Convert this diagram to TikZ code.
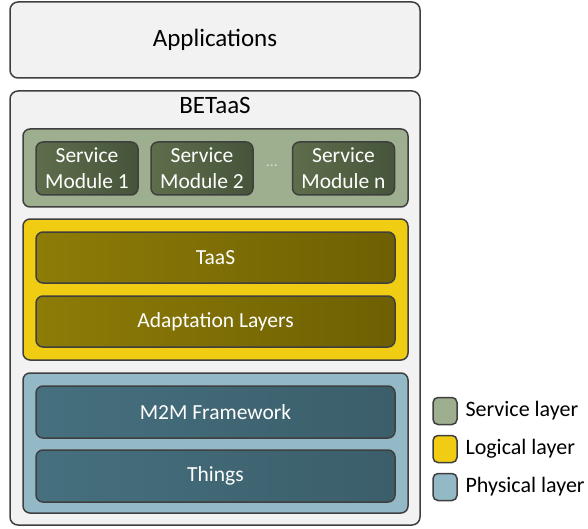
\documentclass[tikz,border=0pt]{standalone}
\usepackage{fontspec}
\setmainfont{Carlito}
\usetikzlibrary{positioning}

\definecolor{boxgray}{HTML}{F2F2F2}
\definecolor{edgegray}{HTML}{3F3F3F}
\definecolor{servlight}{HTML}{9DAF8F}
\definecolor{servdarkA}{HTML}{5E6E4C}
\definecolor{servdarkB}{HTML}{46553A}
\definecolor{logiclight}{HTML}{F0CC12}
\definecolor{logicdarkA}{HTML}{8E7C07}
\definecolor{logicdarkB}{HTML}{6E6003}
\definecolor{physlight}{HTML}{93B8C6}
\definecolor{physdarkA}{HTML}{46707F}
\definecolor{physdarkB}{HTML}{3B5E6A}

\tikzset{
  outerbox/.style={draw=edgegray, line width=1.5pt, fill=boxgray, rounded corners=8pt},
  layerbox/.style={draw=edgegray, line width=1.5pt, rounded corners=7pt, minimum width=385pt},
  innerbox/.style={draw=edgegray, line width=1.5pt, rounded corners=7pt, text=white,
    font=\fontsize{21.5}{26}\selectfont, align=center},
  servmod/.style={innerbox, left color=servdarkA, right color=servdarkB,
    minimum width=102pt, minimum height=53pt, inner sep=0pt},
  logicmod/.style={innerbox, left color=logicdarkA, right color=logicdarkB,
    minimum width=359pt, minimum height=51pt},
  physmod/.style={innerbox, left color=physdarkA, right color=physdarkB,
    minimum width=359pt, minimum height=52pt},
  legendbox/.style={draw=edgegray, line width=1.5pt, rounded corners=5pt,
    minimum width=24pt, minimum height=27pt, inner sep=0pt},
  legendtext/.style={anchor=west, font=\fontsize{22}{24}\selectfont}
}

\begin{document}
\begin{tikzpicture}[x=1pt, y=-1pt]
    \useasboundingbox (0,0) rectangle (588,529);

    % top and main frames
    \node[outerbox, minimum width=410pt, minimum height=76pt,
      font=\fontsize{25}{28}\selectfont] (apps) at (215,40) {Applications};
    \node[outerbox, minimum width=410pt, minimum height=434pt] (betaas) at (215,308) {};
    \node[font=\fontsize{25}{28}\selectfont] (betaaslabel) at (215,105) {BETaaS};

    % service layer
    \node[layerbox, fill=servlight, minimum height=78pt] (service) at (215.5,168) {};
    \node[servmod] (mod1) at (87,168.5) {Service\\Module 1};
    \node[servmod] (mod2) at (202,168.5) {Service\\Module 2};
    \node[servmod] (modn) at (343.5,168.5) {Service\\Module n};
    \node[text=white!85!black, font=\fontsize{16}{16}\selectfont] (dots) at (272,166) {\dots};

    % logical layer
    \node[layerbox, fill=logiclight, minimum height=141pt] (logical) at (215.5,289.5) {};
    \node[logicmod] (taas) at (215.5,257.5) {TaaS};
    \node[logicmod] (adapt) at (215.5,321.5) {Adaptation Layers};

    % physical layer
    \node[layerbox, fill=physlight, minimum height=140pt] (physical) at (215.5,443) {};
    \node[physmod] (m2m) at (215.5,412) {M2M Framework};
    \node[physmod] (things) at (215.5,476) {Things};

    % legend
    \node[legendbox, fill=servlight] (keyserv) at (445,411) {};
    \node[legendtext] (keyservtext) at (462,411) {Service layer};
    \node[legendbox, fill=logiclight] (keylogic) at (445,449) {};
    \node[legendtext] (keylogictext) at (462,449) {Logical layer};
    \node[legendbox, fill=physlight] (keyphys) at (445,487) {};
    \node[legendtext] (keyphystext) at (462,487) {Physical layer};

\end{tikzpicture}
\end{document}
